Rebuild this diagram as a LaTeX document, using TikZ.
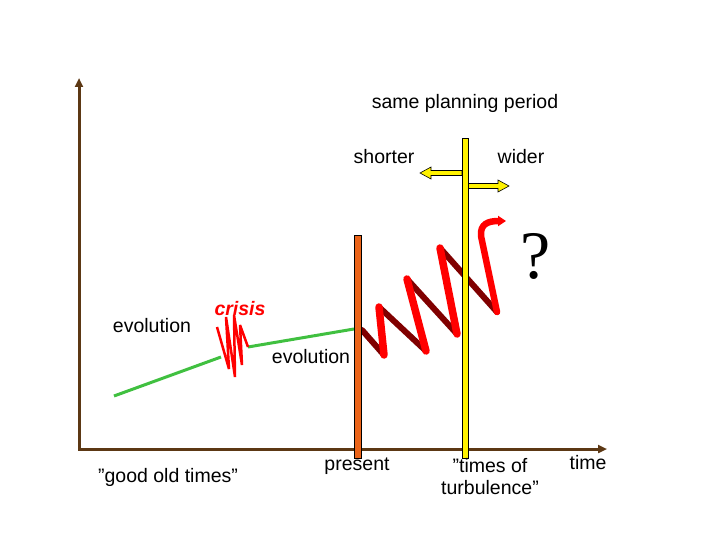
\documentclass[tikz,border=0pt]{standalone}
\usepackage{fontspec}
\setmainfont{Liberation Sans}
\newfontfamily\qmarkfont{Liberation Serif}
\usetikzlibrary{arrows.meta}
\definecolor{axisbrown}{RGB}{92,56,20}
\definecolor{evogreen}{RGB}{64,192,64}
\definecolor{coildark}{RGB}{128,0,0}
\definecolor{presentorange}{RGB}{235,100,25}
\tikzset{
	lbl/.style={inner sep=0pt, font=\fontsize{19.5}{22}\selectfont},
	axisline/.style={axisbrown, line width=3pt, {Triangle[length=9pt,width=8pt]}-{Triangle[length=9pt,width=8pt]}},
	bar/.style={draw=black, line width=0.8pt, inner sep=0pt},
	coilback/.style={coildark, line width=6pt, line cap=round},
	coilfront/.style={red, line width=7.5pt, line cap=round, line join=round},
	yarrow/.style={fill=yellow, draw=black, line width=0.6pt}
}

\begin{document}
\begin{tikzpicture}[x=1pt, y=-1pt]
		\useasboundingbox (0,0) rectangle (720,540);
		% axes
		\coordinate (O) at (79,449);
		\coordinate (ytop) at (79,78);
		\coordinate (xend) at (607,449);
		\draw[axisline] (ytop) -- (O) -- (xend);
		%
		\coordinate (g1) at (114,396);
		\coordinate (g2) at (221,357);
		\coordinate (g3) at (248,347);
		\coordinate (g4) at (354,329);
		\draw[evogreen, line width=3pt] (g1) -- (g2);
		\draw[evogreen, line width=3pt] (g3) -- (g4);
		\draw[red, line width=2.5pt, miter limit=4] (g2) ++(-4,-30) -- ++(12,42) -- ++(-3,-52) -- ++(9,60) -- ++(-1,-62) -- ++(8,50) -- ++(-2,-40) -- (g3);
		% coil
		\coordinate (s0) at (362,330);
		\coordinate (b1) at (384,355);
		\coordinate (t1) at (379,307);
		\coordinate (b2) at (426,351);
		\coordinate (t2) at (407,279);
		\coordinate (b3) at (457,334);
		\coordinate (t3) at (440,248);
		\coordinate (b4) at (497,312);
		\coordinate (t4) at (481,236);
		\coordinate (coilend) at (506,221);
		\draw[coilback] (s0) -- (b1) (t1) -- (b2) (t2) -- (b3) (t3) -- (b4);
		\draw[coilfront] (b1) -- (t1) (b2) -- (t2) (b3) -- (t3);
		\draw[coilfront, line width=6.5pt, -{Triangle[length=8pt,width=10pt]}] (b4) -- (t4) .. controls (480,224) and (488,221) .. (coilend);
		%
		\filldraw[yarrow] (462,170.5) -- (431,170.5) -- (431,167) -- (420,173) -- (431,179) -- (431,175.5) -- (462,175.5) -- cycle;
		\filldraw[yarrow] (468,183.5) -- (498,183.5) -- (498,180) -- (509,186) -- (498,192) -- (498,188.5) -- (468,188.5) -- cycle;
		\node[bar, fill=presentorange, minimum width=7pt, minimum height=223pt] (presentbar) at (357.5,346.5) {};
		\node[bar, fill=yellow, minimum width=6pt, minimum height=320pt] (turbbar) at (465,298) {};
		% labels
		\node[lbl] (plan) at (465,103) {same planning period};
		\node[lbl] (short) at (384,157) {shorter};
		\node[lbl] (wide) at (521,157) {wider};
		\node[inner sep=0pt, font=\qmarkfont\fontsize{68}{70}\selectfont] (qmark) at (536,256) {?};
		\node[lbl] (evo1) at (152,326) {evolution};
		\node[lbl, red, font=\fontsize{19.5}{22}\selectfont\bfseries\itshape] (crisis) at (240,309) {crisis};
		\node[lbl] (evo2) at (311,357) {evolution};
		\node[lbl] (good) at (168,477) {”good old times”};
		\node[lbl] (present) at (357,466) {present};
		\node[lbl, align=center] (turb) at (490,477) {”times of\\turbulence”};
		\node[lbl] (time) at (588,463) {time};
\end{tikzpicture}
\end{document}
